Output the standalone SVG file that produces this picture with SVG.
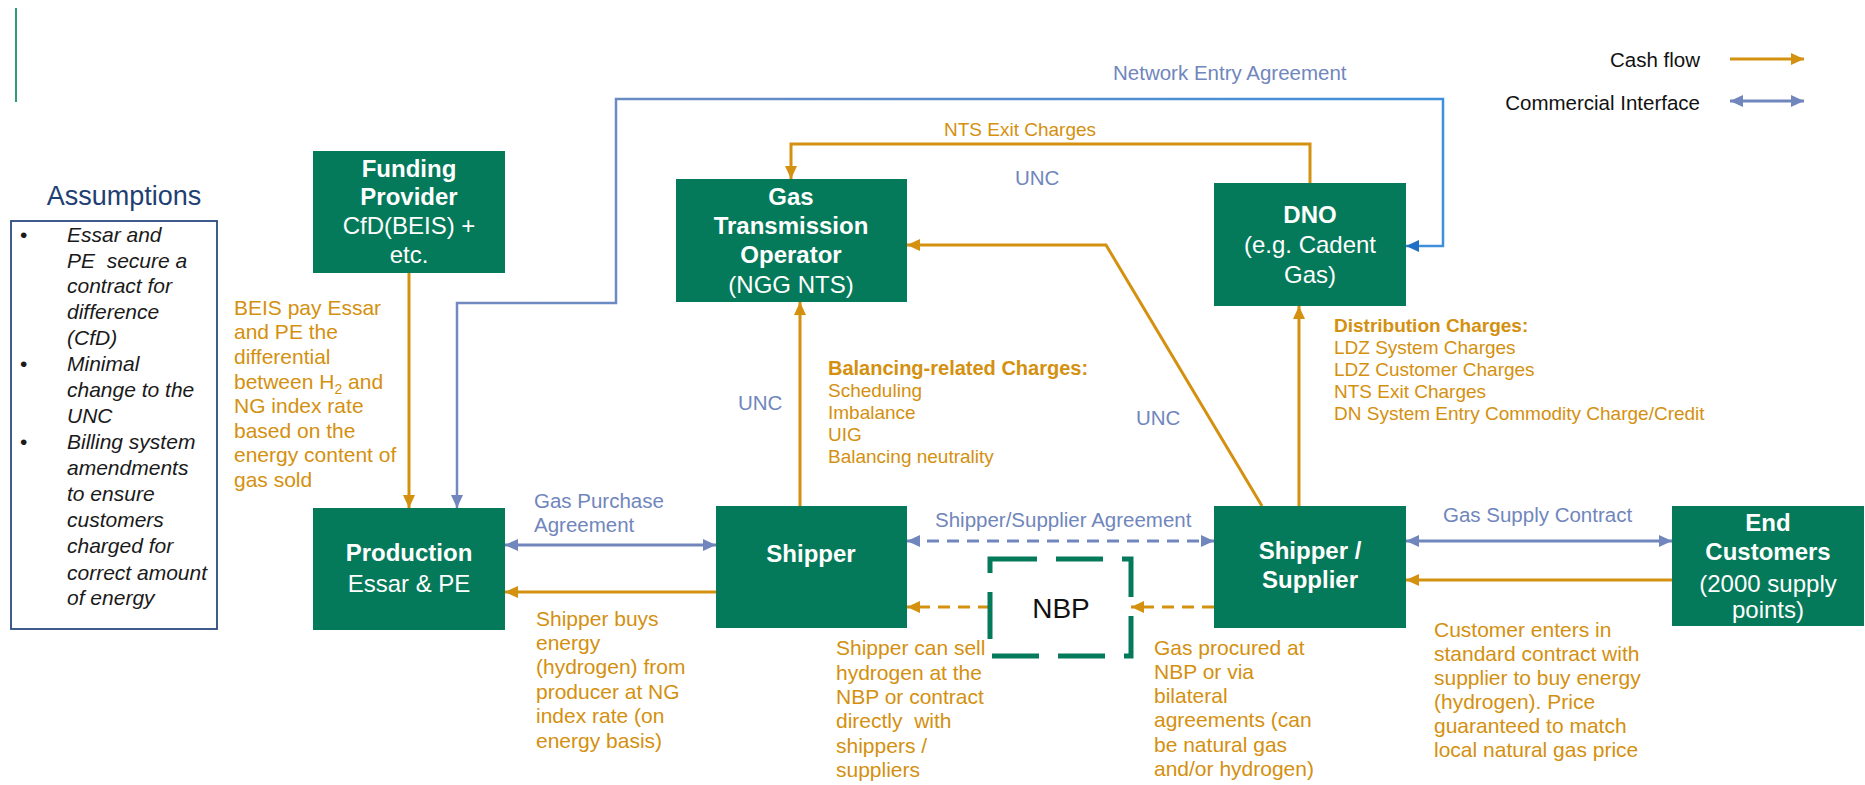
<svg xmlns="http://www.w3.org/2000/svg" width="1865" height="785" viewBox="0 0 1865 785">
<style>
.node{fill:#047A5A}
.nt{font-family:"Liberation Sans",Arial,sans-serif;font-size:24px;fill:#ffffff;text-anchor:middle}
.b{font-weight:bold}
.or{font-family:"Liberation Sans",Arial,sans-serif;font-size:21px;fill:#D4900F}
.ch{font-family:"Liberation Sans",Arial,sans-serif;font-size:19px;fill:#D4900F}
.bl{font-family:"Liberation Sans",Arial,sans-serif;font-size:20.5px;fill:#7086BC}
.lg{font-family:"Liberation Sans",Arial,sans-serif;font-size:20.5px;fill:#111111;text-anchor:end}
.as{font-family:"Liberation Sans",Arial,sans-serif;font-size:21px;fill:#1a1a1a;font-style:italic}
.cash{fill:none;stroke:#D4900F;stroke-width:3}
.com{fill:none;stroke:#7086BC;stroke-width:3}
.dash{stroke-dasharray:12 8}
</style>
<defs>
<marker id="ao" markerUnits="userSpaceOnUse" markerWidth="14" markerHeight="12" refX="13" refY="6" orient="auto-start-reverse"><path d="M0,0 L13,6 L0,12 z" fill="#D4900F"/></marker>
<marker id="ab" markerUnits="userSpaceOnUse" markerWidth="14" markerHeight="12" refX="13" refY="6" orient="auto-start-reverse"><path d="M0,0 L13,6 L0,12 z" fill="#7086BC"/></marker>
<marker id="abr" markerUnits="userSpaceOnUse" markerWidth="14" markerHeight="12" refX="13" refY="6" orient="auto-start-reverse"><path d="M0,0 L13,6 L0,12 z" fill="#1F6FC4"/></marker>
<linearGradient id="ng" gradientUnits="userSpaceOnUse" x1="457" y1="0" x2="1443" y2="0">
<stop offset="0" stop-color="#7389BF"/><stop offset="1" stop-color="#3F90DA"/>
</linearGradient>
</defs>
<rect width="1865" height="785" fill="#ffffff"/>

<line x1="16" y1="8" x2="16" y2="102" stroke="#2E9C78" stroke-width="2"/>

<g id="legend">
<text class="lg" x="1700" y="67">Cash flow</text>
<line class="cash" x1="1730" y1="59" x2="1804" y2="59" stroke-width="4" marker-end="url(#ao)"/>
<text class="lg" x="1700" y="110">Commercial Interface</text>
<line class="com" x1="1730" y1="101" x2="1804" y2="101" stroke-width="4" marker-start="url(#ab)" marker-end="url(#ab)"/>
</g>

<g id="assumptions">
<text x="124" y="205" text-anchor="middle" font-family="Liberation Sans, Arial, sans-serif" font-size="27" fill="#1F3F73">Assumptions</text>
<rect x="11" y="221" width="206" height="408" fill="none" stroke="#2A4A7F" stroke-width="1.8"/>
<g class="as">
<text x="20" y="242" font-style="normal">•</text>
<text x="20" y="371" font-style="normal">•</text>
<text x="20" y="449" font-style="normal">•</text>
<text x="67" y="242">Essar and</text>
<text x="67" y="268" xml:space="preserve">PE  secure a</text>
<text x="67" y="293">contract for</text>
<text x="67" y="319">difference</text>
<text x="67" y="345">(CfD)</text>
<text x="67" y="371">Minimal</text>
<text x="67" y="397">change to the</text>
<text x="67" y="423">UNC</text>
<text x="67" y="449">Billing system</text>
<text x="67" y="475">amendments</text>
<text x="67" y="501">to ensure</text>
<text x="67" y="527">customers</text>
<text x="67" y="553">charged for</text>
<text x="67" y="580">correct amount</text>
<text x="67" y="605">of energy</text>
</g>
</g>

<g id="connectors">
<polyline points="457,508 457,303 616,303 616,99 1443,99 1443,246 1406,246" fill="none" stroke="url(#ng)" stroke-width="2.5" marker-start="url(#ab)" marker-end="url(#abr)"/>
<line class="cash" x1="409" y1="273" x2="409" y2="508" marker-end="url(#ao)"/>
<line class="cash" x1="716" y1="592" x2="505" y2="592" marker-end="url(#ao)"/>
<line class="cash dash" x1="990" y1="607" x2="907" y2="607" marker-end="url(#ao)"/>
<line class="cash dash" x1="1214" y1="607" x2="1131" y2="607" marker-end="url(#ao)"/>
<line class="cash" x1="1672" y1="580" x2="1406" y2="580" marker-end="url(#ao)"/>
<line class="cash" x1="800" y1="506" x2="800" y2="302" marker-end="url(#ao)"/>
<line class="cash" x1="1299" y1="506" x2="1299" y2="306" marker-end="url(#ao)"/>
<polyline class="cash" points="1262,506 1106,245 907,245" marker-end="url(#ao)"/>
<polyline class="cash" points="1310,183 1310,144 791,144 791,179" marker-end="url(#ao)"/>
<line class="com" x1="505" y1="545" x2="716" y2="545" marker-start="url(#ab)" marker-end="url(#ab)"/>
<line class="com dash" x1="907" y1="541" x2="1214" y2="541" marker-start="url(#ab)" marker-end="url(#ab)"/>
<line class="com" x1="1406" y1="541" x2="1672" y2="541" marker-start="url(#ab)" marker-end="url(#ab)"/>
</g>

<g id="labels">
<text class="bl" x="1113" y="80">Network Entry Agreement</text>
<text class="ch" x="944" y="136">NTS Exit Charges</text>
<text class="bl" x="1015" y="185">UNC</text>
<text class="bl" x="738" y="410">UNC</text>
<text class="bl" x="1136" y="425">UNC</text>
<text class="bl" x="534" y="508">Gas Purchase</text>
<text class="bl" x="534" y="532">Agreement</text>
<text class="bl" x="935" y="527">Shipper/Supplier Agreement</text>
<text class="bl" x="1443" y="522">Gas Supply Contract</text>
<g class="ch">
<text x="828" y="375" font-weight="bold" font-size="20">Balancing-related Charges:</text>
<text x="828" y="397">Scheduling</text>
<text x="828" y="419">Imbalance</text>
<text x="828" y="441">UIG</text>
<text x="828" y="463">Balancing neutrality</text>
<text x="1334" y="332" font-weight="bold">Distribution Charges:</text>
<text x="1334" y="354">LDZ System Charges</text>
<text x="1334" y="376">LDZ Customer Charges</text>
<text x="1334" y="398">NTS Exit Charges</text>
<text x="1334" y="420">DN System Entry Commodity Charge/Credit</text>
</g>
<g class="or">
<text x="234" y="315">BEIS pay Essar</text>
<text x="234" y="339">and PE the</text>
<text x="234" y="364">differential</text>
<text x="234" y="389">between H<tspan font-size="14" dy="5">2</tspan><tspan dy="-5"> and</tspan></text>
<text x="234" y="413">NG index rate</text>
<text x="234" y="438">based on the</text>
<text x="234" y="462">energy content of</text>
<text x="234" y="487">gas sold</text>

<text x="536" y="626">Shipper buys</text>
<text x="536" y="650">energy</text>
<text x="536" y="674">(hydrogen) from</text>
<text x="536" y="699">producer at NG</text>
<text x="536" y="723">index rate (on</text>
<text x="536" y="748">energy basis)</text>

<text x="836" y="655">Shipper can sell</text>
<text x="836" y="680">hydrogen at the</text>
<text x="836" y="704">NBP or contract</text>
<text x="836" y="728" xml:space="preserve">directly  with</text>
<text x="836" y="753">shippers /</text>
<text x="836" y="777">suppliers</text>

<text x="1154" y="655">Gas procured at</text>
<text x="1154" y="679">NBP or via</text>
<text x="1154" y="703">bilateral</text>
<text x="1154" y="727">agreements (can</text>
<text x="1154" y="752">be natural gas</text>
<text x="1154" y="776">and/or hydrogen)</text>

<text x="1434" y="637">Customer enters in</text>
<text x="1434" y="661">standard contract with</text>
<text x="1434" y="685">supplier to buy energy</text>
<text x="1434" y="709">(hydrogen). Price</text>
<text x="1434" y="733">guaranteed to match</text>
<text x="1434" y="757">local natural gas price</text>
</g>
</g>

<g id="funding">
<rect class="node" x="313" y="151" width="192" height="122"/>
<text class="nt b" x="409" y="177">Funding</text>
<text class="nt b" x="409" y="205">Provider</text>
<text class="nt" x="409" y="234">CfD(BEIS) +</text>
<text class="nt" x="409" y="263">etc.</text>
</g>
<g id="gto">
<rect class="node" x="676" y="179" width="231" height="123"/>
<text class="nt b" x="791" y="205">Gas</text>
<text class="nt b" x="791" y="234">Transmission</text>
<text class="nt b" x="791" y="263">Operator</text>
<text class="nt" x="791" y="293">(NGG NTS)</text>
</g>
<g id="dno">
<rect class="node" x="1214" y="183" width="192" height="123"/>
<text class="nt b" x="1310" y="223">DNO</text>
<text class="nt" x="1310" y="253">(e.g. Cadent</text>
<text class="nt" x="1310" y="283">Gas)</text>
</g>
<g id="production">
<rect class="node" x="313" y="508" width="192" height="122"/>
<text class="nt b" x="409" y="561">Production</text>
<text class="nt" x="409" y="592">Essar &amp; PE</text>
</g>
<g id="shipper">
<rect class="node" x="716" y="506" width="191" height="122"/>
<text class="nt b" x="811" y="562">Shipper</text>
</g>
<g id="nbp">
<rect x="990" y="559" width="141" height="97" fill="none" stroke="#047A5A" stroke-width="5" stroke-dasharray="47 19"/>
<text x="1061" y="618" text-anchor="middle" font-family="Liberation Sans, Arial, sans-serif" font-size="28" fill="#111111">NBP</text>
</g>
<g id="shipper-supplier">
<rect class="node" x="1214" y="506" width="192" height="122"/>
<text class="nt b" x="1310" y="559">Shipper /</text>
<text class="nt b" x="1310" y="588">Supplier</text>
</g>
<g id="end-customers">
<rect class="node" x="1672" y="506" width="192" height="120"/>
<text class="nt b" x="1768" y="531">End</text>
<text class="nt b" x="1768" y="560">Customers</text>
<text class="nt" x="1768" y="592">(2000 supply</text>
<text class="nt" x="1768" y="618">points)</text>
</g>
</svg>
